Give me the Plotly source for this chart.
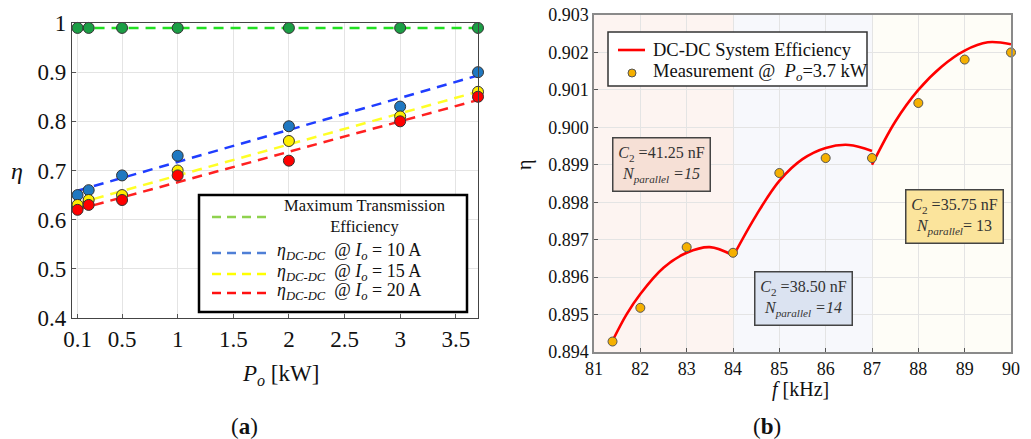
import numpy as np
import plotly.graph_objects as go

W, H = 1031, 439

# ---------------- data: panel (a) ----------------
po_kw = [0.1, 0.2, 0.5, 1, 2, 3, 3.7]
eta_max = [0.99, 0.99, 0.99, 0.99, 0.99, 0.99, 0.99]
eta_10a = [0.65, 0.66, 0.69, 0.73, 0.79, 0.83, 0.90]
eta_15a = [0.63, 0.64, 0.65, 0.70, 0.76, 0.81, 0.86]
eta_20a = [0.62, 0.63, 0.64, 0.69, 0.72, 0.80, 0.85]
a_xticks = [0.1, 0.5, 1, 1.5, 2, 2.5, 3, 3.5]
a_xticklabels = ["0.1", "0.5", "1", "1.5", "2", "2.5", "3", "3.5"]
a_yticks = [0.4, 0.5, 0.6, 0.7, 0.8, 0.9, 1.0]
a_yticklabels = ["0.4", "0.5", "0.6", "0.7", "0.8", "0.9", "1"]

# ---------------- data: panel (b) ----------------
f_meas = [81.4, 82, 83, 84, 85, 86, 87, 88, 89, 90]
eta_meas = [0.89428, 0.89518, 0.89680, 0.89665, 0.89878, 0.89918, 0.89918,
            0.90065, 0.90181, 0.90200]
seg1_f = [81.4, 81.7, 82.0, 82.5, 83.0, 83.5, 84.0]
seg1_eta = [0.89430, 0.89500, 0.89555, 0.89625, 0.89665, 0.89680, 0.89658]
seg2_f = [84.0, 84.5, 85.0, 85.5, 86.0, 86.5, 87.0]
seg2_eta = [0.89655, 0.89765, 0.89857, 0.89915, 0.89945, 0.89953, 0.89937]
seg3_f = [87.0, 87.5, 88.0, 88.5, 89.0, 89.5, 90.0]
seg3_eta = [0.89900, 0.90015, 0.90100, 0.90162, 0.90205, 0.90227, 0.90222]
b_xticks = [81, 82, 83, 84, 85, 86, 87, 88, 89, 90]
b_yticks = [0.894, 0.895, 0.896, 0.897, 0.898, 0.899, 0.900, 0.901, 0.902, 0.903]
b_yticklabels = ["%.3f" % v for v in b_yticks]
regions = [(81, 84, "#fdf4f1"), (84, 87, "#f7f8fc"), (87, 90, "#fefdf7")]
boxes = [
    (82.46, 0.89900, "<i>C</i><sub>2</sub> =41.25 nF<br><i>N<sub>parallel</sub> =15</i>", "#f6e0d6"),
    (85.53, 0.89542, "<i>C</i><sub>2</sub> =38.50 nF<br><i>N<sub>parallel</sub> =14</i>", "#dbe3f1"),
    (88.77, 0.89762, "<i>C</i><sub>2</sub> =35.75 nF<br><i>N<sub>parallel</sub></i>= 13", "#fbe49c"),
]

FONT = "Liberation Serif, Times New Roman, serif"


def px(x):
    return x / W


def py(y):
    return 1 - y / H


fig = go.Figure()

# ---- panel (a) traces ----
fit_x = np.array([po_kw[0], po_kw[-1]])
series = [
    (eta_10a, "#1f3dff", "#1f78c1"),
    (eta_15a, "#ffff26", "#ffee00"),
    (eta_20a, "#ff2020", "#ff0000"),
]
fig.add_trace(go.Scatter(x=po_kw, y=eta_max, mode="lines", xaxis="x", yaxis="y",
                         line=dict(color="#22e022", width=2.5, dash="10px,7px"),
                         showlegend=False, hoverinfo="skip"))
for ys, lc, mc in series:
    k, b = np.polyfit(po_kw, ys, 1)
    fig.add_trace(go.Scatter(x=fit_x, y=k * fit_x + b, mode="lines", xaxis="x", yaxis="y",
                             line=dict(color=lc, width=2.5, dash="10px,7px"),
                             showlegend=False, hoverinfo="skip"))
fig.add_trace(go.Scatter(x=po_kw, y=eta_max, mode="markers", xaxis="x", yaxis="y",
                         marker=dict(color="#1b9e45", size=11, line=dict(color="#333", width=1)),
                         showlegend=False, cliponaxis=False))
for ys, lc, mc in series:
    fig.add_trace(go.Scatter(x=po_kw, y=ys, mode="markers", xaxis="x", yaxis="y",
                             marker=dict(color=mc, size=11, line=dict(color="#333", width=1)),
                             showlegend=False, cliponaxis=False))

# ---- panel (b) traces ----
for sf, se in [(seg1_f, seg1_eta), (seg2_f, seg2_eta), (seg3_f, seg3_eta)]:
    fig.add_trace(go.Scatter(x=sf, y=se, mode="lines", xaxis="x2", yaxis="y2",
                             line=dict(color="#ff0000", width=2.6, shape="spline", smoothing=1.0),
                             showlegend=False, hoverinfo="skip"))
fig.add_trace(go.Scatter(x=f_meas, y=eta_meas, mode="markers", xaxis="x2", yaxis="y2",
                         marker=dict(color="#f5b000", size=9, line=dict(color="#555", width=1)),
                         showlegend=False, cliponaxis=False))

shapes = []
# background regions panel (b)
for x0, x1, c in regions:
    shapes.append(dict(type="rect", xref="x2", yref="y2 domain", x0=x0, x1=x1, y0=0, y1=1,
                       fillcolor=c, line=dict(width=0), layer="below"))

# legend (a)
shapes.append(dict(type="rect", xref="paper", yref="paper", x0=px(199), x1=px(467),
                   y0=py(312), y1=py(195), fillcolor="white", line=dict(color="black", width=2.5)))
leg_a = [
    (217, "#8fd24e", None),
    (253, "#4f7fd6", "<i>η<sub>DC-DC</sub></i>  @ <i>I<sub>o</sub></i> = 10 A"),
    (274, "#ffff00", "<i>η<sub>DC-DC</sub></i>  @ <i>I<sub>o</sub></i> = 15 A"),
    (293, "#ff1010", "<i>η<sub>DC-DC</sub></i>  @ <i>I<sub>o</sub></i> = 20 A"),
]
annotations = []
for yy, c, txt in leg_a:
    shapes.append(dict(type="line", xref="paper", yref="paper", x0=px(212), x1=px(268),
                       y0=py(yy), y1=py(yy), line=dict(color=c, width=2.5, dash="9px,6px")))
    if txt:
        annotations.append(dict(x=px(275), y=py(yy - 2), xref="paper", yref="paper", text=txt,
                                showarrow=False, xanchor="left", yanchor="middle",
                                font=dict(family=FONT, size=18, color="#111")))
annotations.append(dict(x=px(364), y=py(216), xref="paper", yref="paper",
                        text="Maximum Transmission<br>Efficiency", align="center",
                        showarrow=False, xanchor="center", yanchor="middle",
                        font=dict(family=FONT, size=16.5, color="#111")))

# legend (b)
shapes.append(dict(type="rect", xref="paper", yref="paper", x0=px(608), x1=px(867),
                   y0=py(86), y1=py(32), fillcolor="white", line=dict(color="#333", width=1.5)))
shapes.append(dict(type="line", xref="paper", yref="paper", x0=px(618), x1=px(645),
                   y0=py(50), y1=py(50), line=dict(color="#ff0000", width=2.6)))
shapes.append(dict(type="circle", xref="paper", yref="paper", x0=px(628), x1=px(636),
                   y0=py(77), y1=py(69), fillcolor="#f5b000", line=dict(color="#555", width=1)))
annotations.append(dict(x=px(651), y=py(50), xref="paper", yref="paper",
                        text="DC-DC System Efficiency", showarrow=False, xanchor="left",
                        yanchor="middle", font=dict(family=FONT, size=18.5, color="#111")))
annotations.append(dict(x=px(651), y=py(73), xref="paper", yref="paper",
                        text="Measurement @  <i>P<sub>o</sub></i>=3.7 kW", showarrow=False,
                        xanchor="left", yanchor="middle", font=dict(family=FONT, size=18.5, color="#111")))

# annotation boxes (b)
for bx, by, txt, c in boxes:
    annotations.append(dict(x=bx, y=by, xref="x2", yref="y2", text=txt, showarrow=False,
                            align="center", bgcolor=c, bordercolor="#444", borderwidth=1.5,
                            width=94, height=50, xanchor="center", yanchor="middle",
                            font=dict(family=FONT, size=16, color="#333")))

# titles
annotations += [
    dict(x=px(17), y=py(171), text="<i>η</i>", font=dict(family=FONT, size=24, color="#111")),
    dict(x=px(280), y=py(375), text="<i>P<sub>o</sub></i> [kW]",
         font=dict(family=FONT, size=23, color="#111")),
    dict(x=px(244), y=py(426), text="(<b>a</b>)", font=dict(family=FONT, size=23, color="#111")),
    dict(x=px(525), y=py(165), text="η", textangle=-90,
         font=dict(family=FONT, size=20, color="#111")),
    dict(x=px(800), y=py(389), text="<i>f</i> [kHz]", font=dict(family=FONT, size=20, color="#111")),
    dict(x=px(767), y=py(426), text="(<b>b</b>)", font=dict(family=FONT, size=23, color="#111")),
]
for a in annotations[-6:]:
    a.update(xref="paper", yref="paper", showarrow=False, xanchor="center", yanchor="middle")

axis_common = dict(showgrid=True, gridcolor="#e4e4e4", gridwidth=1, zeroline=False,
                   showline=True, mirror=True, ticks="inside", ticklen=4,
                   tickcolor="#555", automargin=False)

fig.update_layout(
    width=W, height=H, margin=dict(l=0, r=0, t=0, b=0, pad=0, autoexpand=False),
    paper_bgcolor="white", plot_bgcolor="white",
    xaxis=dict(domain=[px(72), px(478)], range=[0.05, 3.7], tickvals=a_xticks,
               ticktext=a_xticklabels, anchor="y", linecolor="#444", linewidth=1.2,
               tickfont=dict(family=FONT, size=23, color="#111"), **axis_common),
    yaxis=dict(domain=[py(318), py(23)], range=[0.4, 1.0], tickvals=a_yticks,
               ticktext=a_yticklabels, anchor="x", linecolor="#444", linewidth=1.2,
               tickfont=dict(family=FONT, size=23, color="#111"), **axis_common),
    xaxis2=dict(domain=[px(594), px(1011)], range=[81, 90], tickvals=b_xticks,
                anchor="y2", linecolor="#8a8a8a", linewidth=1.5,
                tickfont=dict(family=FONT, size=18, color="#111"), **axis_common),
    yaxis2=dict(domain=[py(352), py(15)], range=[0.894, 0.903], tickvals=b_yticks,
                ticktext=b_yticklabels, anchor="x2", linecolor="#8a8a8a", linewidth=1.5,
                tickfont=dict(family=FONT, size=18, color="#111"), **axis_common),
    shapes=shapes, annotations=annotations,
)

fig.write_html("out.html")
